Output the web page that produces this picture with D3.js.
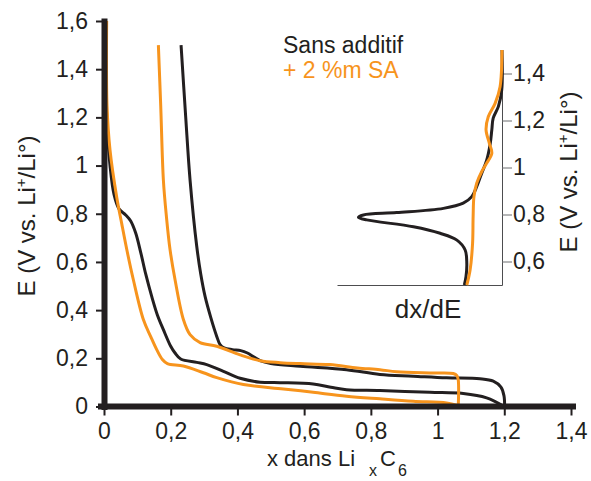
<!DOCTYPE html>
<html>
<head>
<meta charset="utf-8">
<script src="https://cdn.jsdelivr.net/npm/d3@7/dist/d3.min.js"></script>
<style>
  html, body { margin: 0; padding: 0; background: #fff; }
  svg { display: block; }
  text { font-family: "Liberation Sans", Arial, sans-serif; fill: #231f20; }
</style>
</head>
<body>
<svg id="chart" width="591" height="481"></svg>
<script>
// ---------- DATA ----------
// Main plot: x in LixC6 vs E (V vs Li+/Li°)
const blackFirstX = [0.004, 0.006, 0.010, 0.018, 0.030, 0.045, 0.065, 0.080, 0.095, 0.110, 0.125, 0.143, 0.160, 0.178, 0.200, 0.213, 0.230, 0.278, 0.308, 0.358, 0.408, 0.468, 0.528, 0.627, 0.680, 0.727, 0.827, 0.977, 1.077, 1.147, 1.200];
const blackFirstE = [1.600, 1.300, 1.150, 1.000, 0.880, 0.820, 0.795, 0.770, 0.720, 0.640, 0.550, 0.457, 0.380, 0.319, 0.250, 0.222, 0.197, 0.183, 0.174, 0.146, 0.117, 0.101, 0.099, 0.093, 0.080, 0.070, 0.066, 0.059, 0.054, 0.036, 0.000];

const blackSecondX = [0.231, 0.245, 0.258, 0.278, 0.290, 0.303, 0.320, 0.338, 0.348, 0.360, 0.385, 0.410, 0.430, 0.450, 0.468, 0.500, 0.588, 0.727, 0.827, 0.927, 1.027, 1.127, 1.167, 1.190, 1.199, 1.201];
const blackSecondE = [1.500, 1.200, 0.940, 0.665, 0.550, 0.457, 0.370, 0.291, 0.257, 0.243, 0.236, 0.232, 0.222, 0.205, 0.190, 0.178, 0.167, 0.153, 0.133, 0.126, 0.119, 0.115, 0.105, 0.080, 0.045, 0.000];

const orangeFirstX = [0.008, 0.009, 0.018, 0.038, 0.053, 0.070, 0.088, 0.118, 0.140, 0.158, 0.175, 0.190, 0.238, 0.298, 0.338, 0.418, 0.538, 0.627, 0.727, 0.827, 0.927, 1.027, 1.060];
const orangeFirstE = [1.600, 1.250, 1.065, 0.870, 0.760, 0.640, 0.526, 0.361, 0.290, 0.236, 0.195, 0.178, 0.168, 0.140, 0.120, 0.091, 0.073, 0.059, 0.043, 0.032, 0.022, 0.015, 0.004];

const orangeSecondX = [0.163, 0.170, 0.178, 0.187, 0.198, 0.213, 0.238, 0.258, 0.288, 0.338, 0.408, 0.468, 0.528, 0.588, 0.677, 0.760, 0.827, 0.877, 0.977, 1.047, 1.058, 1.062, 1.062];
const orangeSecondE = [1.500, 1.250, 0.940, 0.790, 0.651, 0.526, 0.361, 0.298, 0.265, 0.250, 0.214, 0.190, 0.182, 0.178, 0.174, 0.160, 0.153, 0.144, 0.139, 0.137, 0.128, 0.110, 0.000];

// Inset: dx/dE (arbitrary units, negative) vs E
const insetBlackE    = [1.500, 1.330, 1.260, 1.210, 1.160, 1.100, 1.030, 0.975, 0.918, 0.876, 0.848, 0.826, 0.808, 0.798, 0.788, 0.777, 0.748, 0.720, 0.691, 0.649, 0.592, 0.535, 0.500];
const insetBlackDxdE = [0.00, -0.01, -0.13, -0.32, -0.37, -0.43, -0.56, -0.74, -0.92, -1.10, -1.41, -2.13, -3.83, -5.04, -5.22, -4.92, -3.22, -2.25, -1.64, -1.34, -1.28, -1.31, -1.37];

const insetOrangeE    = [1.500, 1.344, 1.273, 1.216, 1.160, 1.103, 1.060, 1.018, 0.982, 0.933, 0.876, 0.791, 0.677, 0.564, 0.500];
const insetOrangeDxdE = [0.00, -0.07, -0.25, -0.50, -0.58, -0.46, -0.37, -0.56, -0.74, -0.92, -1.02, -1.05, -1.07, -1.16, -1.28];

const xTicks = [0, 0.2, 0.4, 0.6, 0.8, 1, 1.2, 1.4];
const yTicks = [0, 0.2, 0.4, 0.6, 0.8, 1, 1.2, 1.4, 1.6];
const insetYTicks = [0.6, 0.8, 1, 1.2, 1.4];
const legendLabels = ["Sans additif", "+ 2 %m SA"];

// ---------- STYLE ----------
const BLACK = "#231f20";
const ORANGE = "#f7941d";
const fmt = d => String(d).replace(".", ",");

const svg = d3.select("#chart");

// Scales
const x = d3.scaleLinear().domain([0, 1.4]).range([104, 571]);
const y = d3.scaleLinear().domain([0, 1.6]).range([406.5, 21]);
const xi = d3.scaleLinear().domain([-6, 0]).range([337, 502]);
const yi = d3.scaleLinear().domain([0.5, 1.5]).range([285, 50]);

const zip = (a, b) => a.map((v, i) => [v, b[i]]);

const line = d3.line().x(d => x(d[0])).y(d => y(d[1])).curve(d3.curveCatmullRom.alpha(0.5));
const lineInset = d3.line().x(d => xi(d[1])).y(d => yi(d[0])).curve(d3.curveCatmullRom.alpha(0.5));

// Main curves
const mainSeries = [
  { pts: zip(blackFirstX, blackFirstE), color: BLACK },
  { pts: zip(blackSecondX, blackSecondE), color: BLACK },
  { pts: zip(orangeFirstX, orangeFirstE), color: ORANGE },
  { pts: zip(orangeSecondX, orangeSecondE), color: ORANGE }
];
svg.append("g").selectAll("path").data(mainSeries).join("path")
  .attr("d", d => line(d.pts))
  .attr("fill", "none")
  .attr("stroke", d => d.color)
  .attr("stroke-width", 3)
  .attr("stroke-linejoin", "round");

// Main axes
const gx = svg.append("g").attr("transform", `translate(0,${y(0)})`)
  .call(d3.axisBottom(x).tickValues(xTicks).tickFormat(fmt).tickSize(9).tickSizeOuter(0).tickPadding(7));
const gy = svg.append("g").attr("transform", `translate(${x(0)},0)`)
  .call(d3.axisLeft(y).tickValues(yTicks).tickFormat(fmt).tickSize(8).tickSizeOuter(0).tickPadding(8));
[gx, gy].forEach(g => {
  g.select(".domain").attr("stroke", BLACK).attr("stroke-width", 6).attr("stroke-linecap", "square");
  g.selectAll(".tick line").attr("stroke", BLACK).attr("stroke-width", 2);
  g.selectAll(".tick text").attr("font-size", 23).attr("fill", BLACK)
    .attr("font-family", "Liberation Sans, Arial, sans-serif");
});
gx.select(".domain").attr("d", `M${x(0) - 3},0H${x(1.4) + 2}`);

// Axis titles
const yTitle = svg.append("text")
  .attr("transform", `translate(35,216) rotate(-90)`)
  .attr("text-anchor", "middle")
  .attr("font-size", 24);
yTitle.append("tspan").text("E (V vs. Li");
yTitle.append("tspan").attr("dy", -9).attr("font-size", 15).text("+");
yTitle.append("tspan").attr("dy", 9).text("/Li°)");

const xTitle = svg.append("text").attr("y", 466).attr("font-size", 22);
xTitle.append("tspan").attr("x", 267).text("x dans Li");
xTitle.append("tspan").attr("x", 369).attr("dy", 10).attr("font-size", 16).text("x");
xTitle.append("tspan").attr("x", 380).attr("dy", -10).text("C");
xTitle.append("tspan").attr("x", 398).attr("dy", 10).attr("font-size", 16).text("6");

// Legend
svg.append("g").selectAll("text").data(legendLabels).join("text")
  .attr("x", 283)
  .attr("y", (d, i) => 53 + i * 25)
  .attr("font-size", 23)
  .style("fill", (d, i) => i === 0 ? BLACK : ORANGE)
  .text(d => d);

// ---------- INSET ----------
const insetSeries = [
  { pts: zip(insetBlackE, insetBlackDxdE), color: BLACK },
  { pts: zip(insetOrangeE, insetOrangeDxdE), color: ORANGE }
];

const gix = svg.append("g").attr("transform", `translate(0,${yi(0.5)})`)
  .call(d3.axisBottom(xi).tickValues([]).tickSizeOuter(0));
const giy = svg.append("g").attr("transform", `translate(${xi(0)},0)`)
  .call(d3.axisRight(yi).tickValues(insetYTicks).tickFormat(fmt).tickSize(10).tickSizeOuter(0).tickPadding(1));
[gix, giy].forEach(g => {
  g.select(".domain").attr("stroke", "#4d4d4f").attr("stroke-width", 1);
  g.selectAll(".tick line").attr("stroke", "#6d6e70").attr("stroke-width", 1);
  g.selectAll(".tick text").attr("font-size", 23).attr("fill", BLACK)
    .attr("font-family", "Liberation Sans, Arial, sans-serif");
});

svg.append("g").selectAll("path").data(insetSeries).join("path")
  .attr("d", d => lineInset(d.pts))
  .attr("fill", "none")
  .attr("stroke", d => d.color)
  .attr("stroke-width", 3)
  .attr("stroke-linejoin", "round");

const iyTitle = svg.append("text")
  .attr("transform", `translate(577,172) rotate(-90)`)
  .attr("text-anchor", "middle")
  .attr("font-size", 24);
iyTitle.append("tspan").text("E (V vs. Li");
iyTitle.append("tspan").attr("dy", -9).attr("font-size", 15).text("+");
iyTitle.append("tspan").attr("dy", 9).text("/Li°)");

svg.append("text").attr("x", 428).attr("y", 318).attr("text-anchor", "middle")
  .attr("font-size", 26).text("dx/dE");
</script>
</body>
</html>
